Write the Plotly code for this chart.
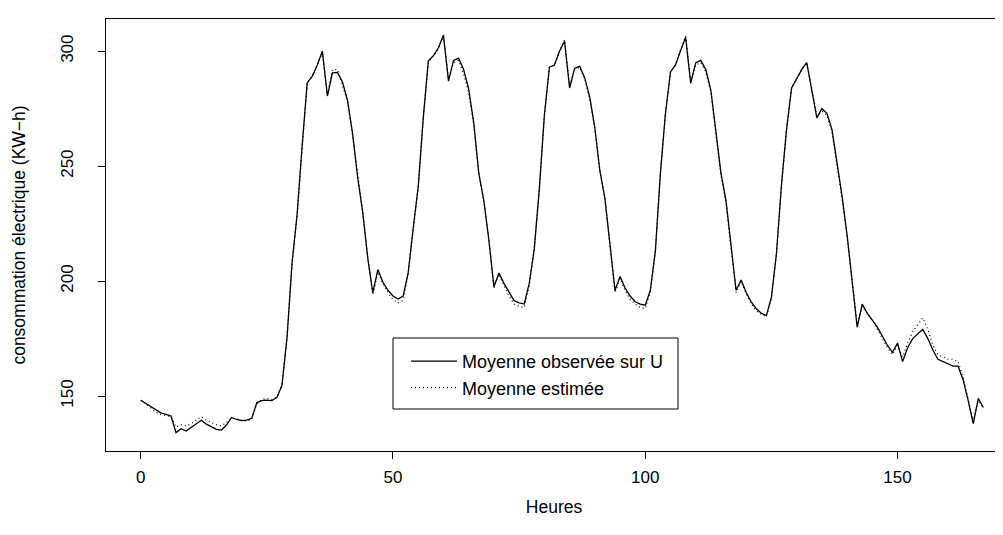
import plotly.graph_objects as go

# heures de la semaine
heures = list(range(168))

# consommation moyenne observee sur U (KW-h)
observee = [
    148.2, 146.8, 145.3, 143.9, 142.7, 142.0, 141.3, 134.1, 135.8, 134.8,
    136.4, 138.1, 139.5, 137.8, 136.7, 135.5, 135.2, 137.4, 140.7, 139.8,
    139.3, 139.5, 140.3, 147.1, 148.0, 148.2, 148.0, 149.4, 154.7, 175.5,
    208.0, 229.0, 259.0, 286.3, 289.0, 294.0, 300.0, 280.5, 290.6, 290.8,
    286.5, 278.5, 264.0, 245.0, 230.0, 210.0, 195.0, 205.0, 199.5, 196.0,
    193.5, 192.2, 193.5, 203.5, 223.0, 241.0, 271.0, 295.7, 298.0, 301.5,
    307.0, 287.0, 296.0, 297.0, 292.0, 283.5, 269.0, 247.0, 235.0, 218.0,
    197.5, 203.5, 199.0, 195.0, 191.5, 190.5, 190.0, 199.0, 214.0, 240.0,
    272.0, 293.0, 294.0, 300.0, 304.3, 284.0, 292.5, 293.5, 288.4, 280.0,
    266.8, 248.0, 236.0, 216.0, 196.0, 202.0, 197.0, 193.5, 191.0, 190.0,
    189.5, 196.0, 213.0, 247.0, 273.0, 291.0, 294.0, 300.3, 306.0, 286.0,
    295.0, 296.0, 292.0, 283.0, 266.0, 247.0, 235.0, 214.0, 196.0, 200.5,
    195.0, 191.0, 188.0, 186.0, 185.0, 193.0, 212.0, 242.0, 266.0, 284.0,
    288.0, 292.0, 295.0, 283.0, 271.0, 275.0, 273.0, 266.0, 252.0, 237.0,
    220.0, 200.0, 180.0, 190.0, 186.0, 183.0, 180.0, 176.0, 172.0, 169.0,
    173.0, 165.0, 171.0, 175.0, 177.0, 179.0, 175.0, 170.0, 166.0, 165.0,
    164.0, 163.0, 163.0, 157.0, 148.0, 138.0, 149.0, 145.0,
]

# consommation moyenne estimee
estimee = [
    148.2, 146.5, 144.5, 143.0, 142.0, 141.6, 141.0, 136.5, 137.5, 137.0,
    138.0, 139.5, 141.0, 139.5, 138.5, 137.5, 137.0, 138.5, 140.5, 140.0,
    139.5, 139.0, 140.0, 146.5, 148.5, 149.0, 148.5, 149.5, 155.0, 176.0,
    208.0, 229.0, 258.0, 286.0, 289.5, 294.0, 299.5, 281.0, 292.0, 292.0,
    285.0, 278.0, 263.0, 246.0, 230.0, 210.0, 194.0, 204.0, 199.0, 195.0,
    192.0, 190.5, 191.5, 203.0, 223.0, 241.0, 271.0, 295.0, 298.0, 301.0,
    306.5, 288.0, 295.0, 296.0, 290.0, 282.0, 268.0, 247.0, 235.0, 218.0,
    197.0, 203.0, 198.0, 193.5, 190.0, 189.0, 188.5, 198.0, 214.0, 240.0,
    272.0, 293.0, 294.0, 300.0, 305.0, 285.0, 292.0, 293.0, 288.0, 279.0,
    266.0, 248.0, 236.0, 216.0, 195.0, 201.0, 196.0, 192.0, 190.0, 188.5,
    188.0, 195.5, 213.0, 247.0, 273.0, 291.0, 294.5, 300.5, 306.5, 287.0,
    294.0, 295.0, 291.0, 282.0, 265.0, 246.0, 234.0, 213.0, 195.0, 200.0,
    194.5, 190.0, 187.0, 185.5, 184.5, 192.5, 212.0, 242.0, 266.0, 284.0,
    288.0, 292.0, 295.0, 283.5, 272.0, 274.0, 272.0, 265.0, 251.0, 236.0,
    219.0, 199.0, 181.0, 189.0, 186.0, 183.0, 179.0, 175.0, 171.0, 168.0,
    172.0, 167.0, 173.0, 178.0, 181.0, 184.0, 179.0, 172.0, 168.0, 167.0,
    166.0, 166.0, 165.0, 158.0, 148.0, 139.0, 148.0, 145.0,
]

x_ticks = [0, 50, 100, 150]
y_ticks = [150, 200, 250, 300]

police = "Liberation Sans, Arial, sans-serif"

trace1 = go.Scatter(
    x=heures, y=observee, mode="lines", name="Moyenne observée sur U",
    line=dict(color="black", width=1.3))
trace2 = go.Scatter(
    x=heures, y=estimee, mode="lines", name="Moyenne estimée",
    line=dict(color="black", width=1.2, dash="1px,3px"))

layout = go.Layout(
    width=1003, height=535,
    margin=dict(l=98, r=9, t=11, b=92),
    paper_bgcolor="white", plot_bgcolor="white",
    font=dict(family=police, size=17, color="black"),
    xaxis=dict(
        range=[-6.88, 170.7], tickvals=x_ticks, ticks="outside", ticklen=7,
        tickcolor="black", showline=True, mirror=True, linecolor="black",
        linewidth=1, showgrid=False, zeroline=False, ticklabelstandoff=4,
        title=dict(text="Heures", standoff=14, font=dict(size=17.5))),
    yaxis=dict(
        range=[126.1, 314.0], tickvals=y_ticks, ticks="outside", ticklen=7,
        tickcolor="black", tickangle=-90, showline=True, mirror=True,
        linecolor="black", linewidth=1, showgrid=False, zeroline=False,
        ticklabelstandoff=18,
        title=dict(text="consommation électrique (KW−h)", standoff=28,
                   font=dict(size=17.5))),
    legend=dict(
        x=(398 - 98) / 896, y=(443 - 335) / 432, xanchor="left", yanchor="top",
        bgcolor="rgba(0,0,0,0)", borderwidth=0, itemwidth=46,
        font=dict(size=18)),
    shapes=[dict(type="rect", xref="paper", yref="paper",
                 x0=(385 - 98) / 896, x1=(670 - 98) / 896,
                 y0=(443 - 401) / 432, y1=(443 - 330) / 432,
                 line=dict(color="black", width=1))],
)

fig = go.Figure(data=[trace1, trace2], layout=layout)
fig.write_html("out.html")
